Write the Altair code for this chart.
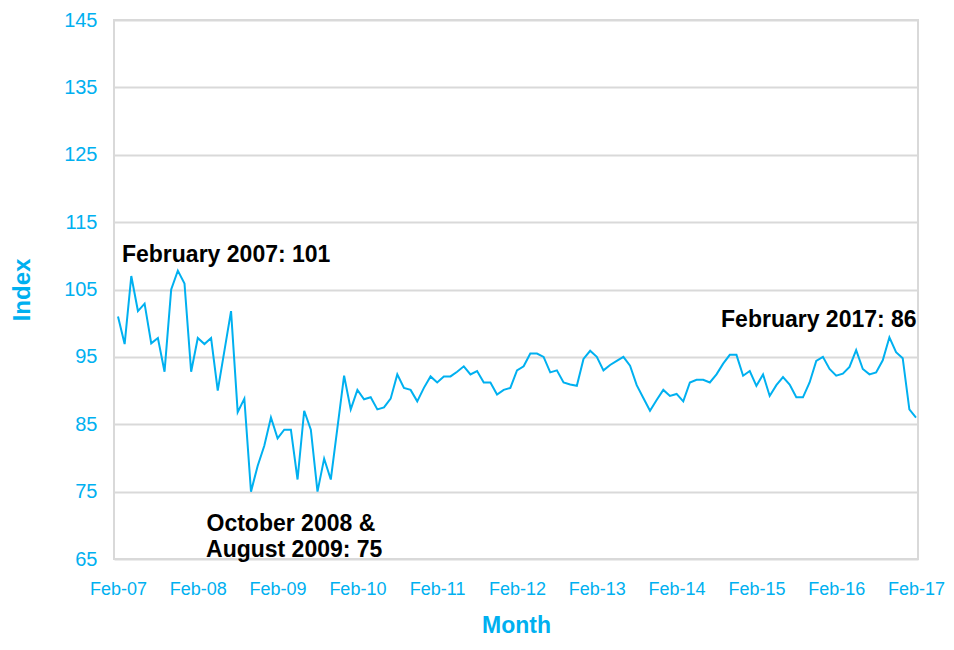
import altair as alt
import pandas as pd

# Monthly index values, Feb-2007 .. Feb-2017 (121 months)
values = [
    101.0, 96.9, 107.0, 101.8, 102.9, 97.0, 97.8, 92.8, 105.0, 107.8, 105.9, 92.8,
    97.8, 96.9, 97.8, 90.0, 95.9, 101.8, 86.8, 88.8, 75.0, 78.8, 81.8, 86.0,
    82.9, 84.2, 84.2, 76.8, 87.0, 84.2, 75.0, 79.9, 76.8, 84.5, 92.2, 87.2,
    90.1, 88.7, 89.0, 87.2, 87.5, 88.8, 92.4, 90.4, 90.1, 88.4, 90.4, 92.1,
    91.2, 92.1, 92.1, 92.8, 93.6, 92.4, 92.9, 91.2, 91.2, 89.4, 90.1, 90.4,
    93.0, 93.6, 95.5, 95.5, 95.0, 92.7, 93.0, 91.2, 90.9, 90.7, 94.7, 95.9,
    95.0, 93.0, 93.8, 94.4, 95.0, 93.7, 90.8, 88.9, 87.0, 88.6, 90.1, 89.2,
    89.5, 88.4, 91.2, 91.6, 91.6, 91.2, 92.4, 94.0, 95.3, 95.3, 92.2, 92.9,
    90.7, 92.4, 89.2, 90.8, 92.0, 90.9, 89.0, 89.0, 91.2, 94.4, 95.0, 93.2,
    92.2, 92.5, 93.5, 96.0, 93.2, 92.4, 92.7, 94.5, 97.9, 95.7, 94.8, 87.2,
    86.0,
]
month_index = list(range(len(values)))
tick_labels = ["Feb-07", "Feb-08", "Feb-09", "Feb-10", "Feb-11", "Feb-12",
               "Feb-13", "Feb-14", "Feb-15", "Feb-16", "Feb-17"]
tick_positions = [0, 12, 24, 36, 48, 60, 72, 84, 96, 108, 120]
y_ticks = [65, 75, 85, 95, 105, 115, 125, 135, 145]

ann_text = ["February 2007: 101", "February 2017: 86", "October 2008 &", "August 2009: 75"]
ann_x = [0.6, 120.1, 26.0, 26.5]
ann_y = [110.1, 100.5, 70.2, 66.3]
ann_align = ["left", "right", "center", "center"]

df = pd.DataFrame({"i": month_index, "value": values})
ann = pd.DataFrame({"text": ann_text, "x": ann_x, "y": ann_y, "align": ann_align})

BLUE = "#00B0F0"
FONT = "Liberation Sans"
label_js = "[" + ",".join("'%s'" % t for t in tick_labels) + "][round(datum.value/12)]"

xscale = alt.Scale(domain=[-0.6, 120.3], nice=False, zero=False)
yscale = alt.Scale(domain=[65, 145], nice=False, zero=False)

line = alt.Chart(df).mark_line(color=BLUE, strokeWidth=2).encode(
    x=alt.X("i:Q", scale=xscale,
            axis=alt.Axis(values=tick_positions, labelExpr=label_js, title="Month",
                          grid=False, ticks=False, domain=False,
                          labelColor=BLUE, labelFont=FONT, labelFontSize=18,
                          labelPadding=21, labelFlush=False,
                          titleColor=BLUE, titleFont=FONT, titleFontSize=23,
                          titleFontWeight="bold", titleY=66, titleBaseline="middle")),
    y=alt.Y("value:Q", scale=yscale,
            axis=alt.Axis(values=y_ticks, title="Index", grid=True,
                          gridColor="#D9D9D9", gridWidth=2, ticks=False, domain=False,
                          labelColor=BLUE, labelFont=FONT, labelFontSize=20,
                          labelPadding=17,
                          titleColor=BLUE, titleFont=FONT, titleFontSize=24,
                          titleFontWeight="bold", titleX=-92, titleAngle=-90,
                          titleBaseline="middle")),
)

texts = []
for a in ["left", "right", "center"]:
    texts.append(
        alt.Chart(ann[ann["align"] == a]).mark_text(
            align=a, baseline="middle", font=FONT, fontSize=23,
            fontWeight="bold", color="black"
        ).encode(x=alt.X("x:Q", scale=xscale), y=alt.Y("y:Q", scale=yscale), text="text:N")
    )

chart = alt.layer(line, *texts).properties(
    width=804, height=539,
    autosize=alt.AutoSizeParams(type="none"),
    padding={"left": 106, "top": 12, "right": 28, "bottom": 80},
).configure_view(stroke="#D9D9D9", strokeWidth=2)

chart.save("out.html", embed_options={"renderer": "svg", "actions": False})
